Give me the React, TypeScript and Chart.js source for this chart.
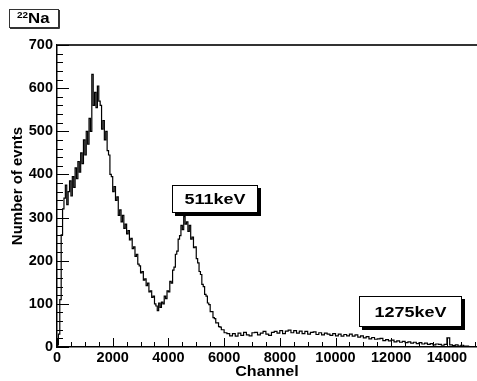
import { useEffect, useRef } from "react";
import { Chart, registerables } from "chart.js";

Chart.register(...registerables);

// 22Na spectrum: fine 50-channel bins over the Compton edge and 511 keV region
const FINE_BIN_WIDTH = 50;
const FINE_COUNTS = [
  0, 5, 30, 110, 260, 320, 345, 375, 330, 360,
  385, 350, 395, 370, 415, 390, 430, 405, 450, 425,
  480, 445, 500, 470, 530, 500, 632, 560, 590, 555,
  605, 570, 560, 505, 525, 480, 500, 455, 445, 400,
  395, 360, 372, 340, 348, 305, 318, 290, 305, 275,
  285, 262, 270, 248, 252, 228, 232, 210, 215, 192,
  188, 172, 175, 155, 158, 142, 148, 128, 130, 115,
  118, 100, 95, 84, 102, 92, 104, 100, 118, 112,
  130, 128, 152, 148, 178, 185, 215, 222, 250, 258,
  282, 272, 302, 285, 290, 268, 282, 250, 255, 230,
  232, 205, 195, 175, 168, 145, 140, 122, 118, 102,
  98, 82, 82, 68, 66, 56, 56, 47, 46, 40,
];

// 100-channel bins for the flat tail and the 1275 keV region, from channel 6000
const TAIL_START = 6000;
const TAIL_BIN_WIDTH = 100;
const TAIL_COUNTS = [
  40, 33, 31, 26, 31, 25, 32, 27, 34, 28,
  26, 33, 34, 28, 32, 36, 30, 27, 34, 36,
  32, 38, 31, 37, 39, 33, 38, 32, 37, 31,
  36, 30, 34, 35, 29, 33, 28, 32, 30, 27,
  31, 26, 30, 25, 29, 26, 30, 25, 28, 23,
  26, 21, 24, 19, 22, 18, 19, 20, 15, 17,
  14, 16, 12, 14, 11, 13, 10, 12, 9, 11,
  8, 10, 7, 9, 6, 8, 5, 7, 6, 4,
  6, 21, 5, 3, 5, 2, 4, 2,
];

const X_TICKS = [0, 2000, 4000, 6000, 8000, 10000, 12000, 14000];
const X_TICK_LABELS = ["0", "2000", "4000", "6000", "8000", "10000", "12000", "14000"];
const Y_TICKS = [0, 100, 200, 300, 400, 500, 600, 700];
const Y_TICK_LABELS = ["0", "100", "200", "300", "400", "500", "600", "700"];
const X_MAX = 15080;
const Y_MAX = 700;

// Photo-peak captions, boxes given in channel / count coordinates
const PEAK_CAPTIONS = [
  { text: "511keV", x0: 4130, x1: 7215, y0: 376, y1: 311 },
  { text: "1275keV", x0: 10840, x1: 14540, y0: 118, y1: 46 },
];

const FONT = '"Liberation Sans", Arial, Helvetica, sans-serif';

function drawStretched(
  ctx: CanvasRenderingContext2D,
  text: string,
  cx: number,
  cy: number,
  font: string,
  sx: number,
  rotate = 0,
  align: CanvasTextAlign = "center"
) {
  ctx.save();
  ctx.translate(cx, cy);
  if (rotate) ctx.rotate(rotate);
  ctx.scale(sx, 1);
  ctx.font = font;
  ctx.fillStyle = "#000";
  ctx.textAlign = align;
  ctx.textBaseline = "middle";
  ctx.fillText(text, 0, 0);
  ctx.restore();
}

const rootStyle = {
  id: "rootStyle",
  afterDraw(chart: any) {
    const { ctx, chartArea: a, scales } = chart;
    const xs = scales.x;
    const ys = scales.y;
    ctx.save();

    // upper frame edge
    ctx.strokeStyle = "#333";
    ctx.lineWidth = 2;
    ctx.beginPath();
    ctx.moveTo(a.left, a.top);
    ctx.lineTo(a.right, a.top);
    ctx.stroke();

    // inward tick marks
    ctx.strokeStyle = "#000";
    ctx.lineWidth = 1;
    ctx.beginPath();
    for (let v = 0; v <= X_MAX; v += 500) {
      const px = Math.round(xs.getPixelForValue(v)) + 0.5;
      const len = v % 2000 === 0 ? 9 : 5;
      ctx.moveTo(px, a.bottom);
      ctx.lineTo(px, a.bottom - len);
    }
    for (let v = 0; v <= Y_MAX; v += 20) {
      const py = Math.round(ys.getPixelForValue(v)) + 0.5;
      const len = v % 100 === 0 ? 12 : 6;
      ctx.moveTo(a.left, py);
      ctx.lineTo(a.left + len, py);
    }
    ctx.stroke();

    // peak captions with drop shadow
    for (const c of PEAK_CAPTIONS) {
      const l = Math.round(xs.getPixelForValue(c.x0));
      const r = Math.round(xs.getPixelForValue(c.x1));
      const t = Math.round(ys.getPixelForValue(c.y0));
      const b = Math.round(ys.getPixelForValue(c.y1));
      ctx.fillStyle = "#000";
      ctx.fillRect(l + 3, t + 3, r - l, b - t);
      ctx.fillStyle = "#fff";
      ctx.fillRect(l, t, r - l, b - t);
      ctx.strokeStyle = "#000";
      ctx.lineWidth = 1;
      ctx.strokeRect(l + 0.5, t + 0.5, r - l - 1, b - t - 1);
      drawStretched(ctx, c.text, (l + r) / 2, (t + b) / 2 + 1, `bold 15px ${FONT}`, 1.2);
    }

    // title box: mass number as a raised superscript before the element symbol
    ctx.fillStyle = "#fff";
    ctx.fillRect(9, 9, 50, 19);
    ctx.strokeStyle = "#333";
    ctx.lineWidth = 1;
    ctx.strokeRect(9.5, 9.5, 49, 18);
    ctx.beginPath();
    ctx.moveTo(10, 28.5);
    ctx.lineTo(59.5, 28.5);
    ctx.lineTo(59.5, 10);
    ctx.stroke();
    drawStretched(ctx, "22", 17, 15.5, `bold 9px ${FONT}`, 1.1, 0, "left");
    drawStretched(ctx, "Na", 28, 19.5, `bold 14px ${FONT}`, 1.2, 0, "left");

    // axis titles
    drawStretched(ctx, "Channel", 267, 372, `bold 14px ${FONT}`, 1.15);
    drawStretched(ctx, "Number of evnts", 18, 186, `bold 15px ${FONT}`, 1.0, -Math.PI / 2);

    ctx.restore();
  },
};

export default function App() {
  const canvasRef = useRef<HTMLCanvasElement | null>(null);

  useEffect(() => {
    document.body.style.margin = "0";
    const canvas = canvasRef.current;
    if (!canvas) return;

    // bin left edges as step points, closed by the right edge of the last bin
    const points = [
      ...FINE_COUNTS.map((v, i) => ({ x: i * FINE_BIN_WIDTH, y: v })),
      ...TAIL_COUNTS.map((v, i) => ({ x: TAIL_START + i * TAIL_BIN_WIDTH, y: v })),
    ];
    points.push({
      x: TAIL_START + TAIL_COUNTS.length * TAIL_BIN_WIDTH,
      y: TAIL_COUNTS[TAIL_COUNTS.length - 1],
    });

    const chart = new Chart(canvas, {
      type: "line",
      data: {
        datasets: [
          {
            data: points,
            borderColor: "#000",
            borderWidth: 1.2,
            pointRadius: 0,
            stepped: "after",
            fill: false,
          },
        ],
      },
      options: {
        animation: false,
        responsive: false,
        devicePixelRatio: 1,
        layout: { padding: { top: 45, right: 0, left: 0, bottom: 0 } },
        plugins: { legend: { display: false }, tooltip: { enabled: false }, title: { display: false } },
        scales: {
          x: {
            type: "linear",
            min: 0,
            max: X_MAX,
            grid: { display: false, drawTicks: false },
            border: { display: true, color: "#000", width: 1.5 },
            afterBuildTicks: (s: any) => {
              s.ticks = X_TICKS.map((v) => ({ value: v }));
            },
            afterFit: (s: any) => {
              s.height = 34;
            },
            ticks: {
              autoSkip: false,
              maxRotation: 0,
              padding: 2,
              color: "#000",
              font: { family: FONT, size: 14.5, weight: "bold" },
              callback: (v: any) => X_TICK_LABELS[X_TICKS.indexOf(Number(v))] ?? "",
            },
          },
          y: {
            type: "linear",
            min: 0,
            max: Y_MAX,
            grid: { display: false, drawTicks: false },
            border: { display: true, color: "#000", width: 1.5 },
            afterBuildTicks: (s: any) => {
              s.ticks = Y_TICKS.map((v) => ({ value: v }));
            },
            afterFit: (s: any) => {
              s.width = 57;
            },
            ticks: {
              autoSkip: false,
              padding: 4,
              color: "#000",
              font: { family: FONT, size: 14.5, weight: "bold" },
              callback: (v: any) => Y_TICK_LABELS[Y_TICKS.indexOf(Number(v))] ?? "",
            },
          },
        },
      },
      plugins: [rootStyle],
    });

    return () => chart.destroy();
  }, []);

  return (
    <div style={{ width: 477, height: 381 }}>
      <canvas ref={canvasRef} width={477} height={381} style={{ display: "block" }} />
    </div>
  );
}
